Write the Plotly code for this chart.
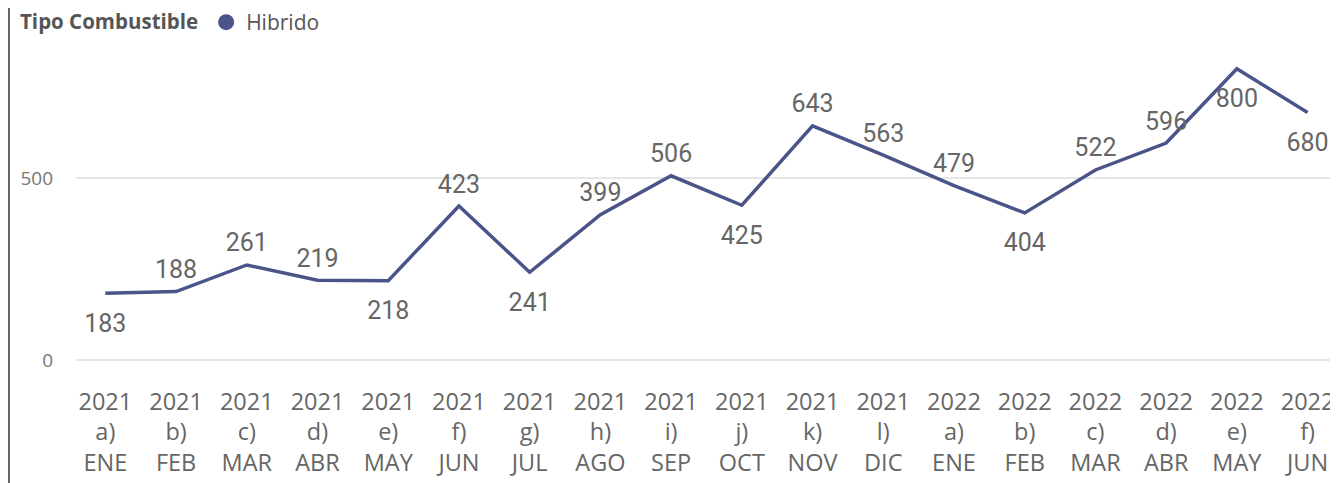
import plotly.graph_objects as go

years = ["2021"] * 12 + ["2022"] * 6
letters = ["a)", "b)", "c)", "d)", "e)", "f)", "g)", "h)", "i)", "j)", "k)", "l)",
           "a)", "b)", "c)", "d)", "e)", "f)"]
months = ["ENE", "FEB", "MAR", "ABR", "MAY", "JUN", "JUL", "AGO", "SEP", "OCT", "NOV", "DIC",
          "ENE", "FEB", "MAR", "ABR", "MAY", "JUN"]
values = [183, 188, 261, 219, 218, 423, 241, 399, 506, 425, 643, 563, 479, 404, 522, 596, 800, 680]
label_pos = ["bottom center", "top center", "top center", "top center", "bottom center",
             "top center", "bottom center", "top center", "top center", "bottom center",
             "top center", "top center", "top center", "bottom center", "top center",
             "top center", "bottom center", "bottom center"]

cats = [f"{y}<br>{l}<br>{m}" for y, l, m in zip(years, letters, months)]
x = list(range(len(cats)))

LINE = "#4a5488"
# invisible marker sizes control how far each data label sits from its point
msize = [30 if p.startswith("bottom") else 10 for p in label_pos]

fig = go.Figure()
fig.add_trace(go.Scatter(
    x=x, y=values, mode="lines+markers+text", name="Hibrido", showlegend=False,
    line=dict(color=LINE, width=3.5),
    marker=dict(color="rgba(0,0,0,0)", size=msize, line=dict(width=0, color="rgba(0,0,0,0)")),
    text=[str(v) for v in values], textposition=label_pos,
    textfont=dict(family="Roboto", size=25, color="#666666"),
    cliponaxis=False, hoverinfo="x+y",
))
fig.add_trace(go.Scatter(
    x=[None], y=[None], mode="markers", name="Hibrido", showlegend=True,
    marker=dict(color=LINE, size=20, symbol="circle", line=dict(width=0)),
))

# page body has an 8px margin, so the figure is drawn 8px smaller
W, H = 1330, 475
ml, mr, mt, mb = 68, 0, 32, 113
pw, ph = W - ml - mr, H - mt - mb

fig.update_layout(
    width=W, height=H,
    margin=dict(l=ml, r=mr, t=mt, b=mb, autoexpand=False),
    paper_bgcolor="white", plot_bgcolor="white",
    showlegend=True,
    legend=dict(
        orientation="h", xref="paper", yref="paper",
        x=(10 - ml) / pw, y=(H - mb + 6) / ph, xanchor="left", yanchor="top",
        title=dict(text="<b>Tipo Combustible</b>", font=dict(family="Open Sans", size=20.5, color="#555555")),
        font=dict(family="Open Sans", size=21, color="#555555"),
        itemwidth=30, tracegroupgap=0,
    ),
    xaxis=dict(
        tickmode="array", tickvals=x, ticktext=cats,
        range=[-0.415, 17.43], showgrid=False, zeroline=False, showline=False,
        tickfont=dict(family="Open Sans", size=23.5, color="#666666"),
        ticks="", ticklabelstandoff=15,
    ),
    yaxis=dict(
        range=[-27.5, 879], tickvals=[0, 500], showgrid=True, gridcolor="#e6e6e6", gridwidth=1.5,
        zeroline=False, showline=False,
        tickfont=dict(family="Open Sans", size=19, color="#777777"),
        ticks="", ticklabelstandoff=22,
    ),
)

fig.add_shape(type="line", xref="paper", yref="paper",
              x0=(1 - ml) / pw, x1=(1 - ml) / pw,
              y0=(H - mb - 0) / ph, y1=(H - mb - H) / ph,
              line=dict(color="#666666", width=2))

fig.write_html("out.html")
